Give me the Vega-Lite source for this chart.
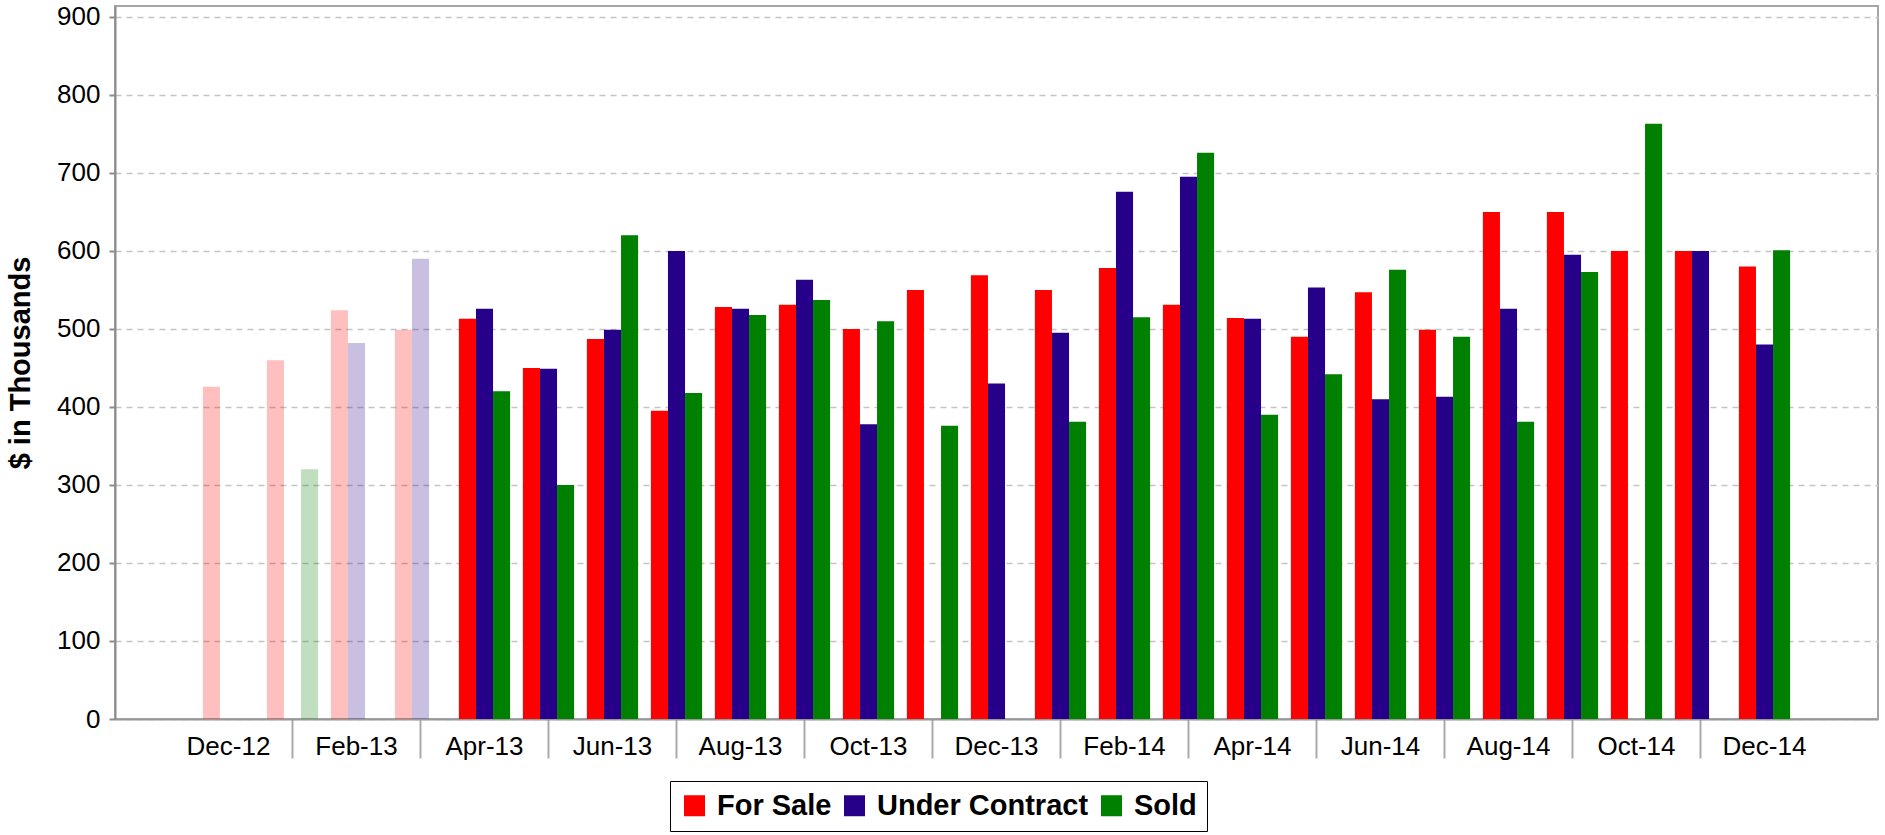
{
  "$schema": "https://vega.github.io/schema/vega-lite/v6.json",
  "autosize": {"type": "none"},
  "padding": {"left": 115, "top": 6, "right": 7, "bottom": 116},
  "width": 1763,
  "height": 713,
  "background": "white",
  "config": {
    "font": "Liberation Sans",
    "view": {"stroke": "#a6a6a6", "strokeWidth": 2}
  },
  "data": {
    "values": [
      {"month": "Dec-12", "series": "For Sale", "value": 426},
      {"month": "Jan-13", "series": "For Sale", "value": 460},
      {"month": "Jan-13", "series": "Sold", "value": 320},
      {"month": "Feb-13", "series": "For Sale", "value": 524},
      {"month": "Feb-13", "series": "Under Contract", "value": 482},
      {"month": "Mar-13", "series": "For Sale", "value": 499},
      {"month": "Mar-13", "series": "Under Contract", "value": 590},
      {"month": "Apr-13", "series": "For Sale", "value": 513},
      {"month": "Apr-13", "series": "Under Contract", "value": 526},
      {"month": "Apr-13", "series": "Sold", "value": 420},
      {"month": "May-13", "series": "For Sale", "value": 450},
      {"month": "May-13", "series": "Under Contract", "value": 449},
      {"month": "May-13", "series": "Sold", "value": 300},
      {"month": "Jun-13", "series": "For Sale", "value": 487},
      {"month": "Jun-13", "series": "Under Contract", "value": 499},
      {"month": "Jun-13", "series": "Sold", "value": 620},
      {"month": "Jul-13", "series": "For Sale", "value": 395},
      {"month": "Jul-13", "series": "Under Contract", "value": 600},
      {"month": "Jul-13", "series": "Sold", "value": 418},
      {"month": "Aug-13", "series": "For Sale", "value": 528},
      {"month": "Aug-13", "series": "Under Contract", "value": 526},
      {"month": "Aug-13", "series": "Sold", "value": 518},
      {"month": "Sep-13", "series": "For Sale", "value": 531},
      {"month": "Sep-13", "series": "Under Contract", "value": 563},
      {"month": "Sep-13", "series": "Sold", "value": 537},
      {"month": "Oct-13", "series": "For Sale", "value": 500},
      {"month": "Oct-13", "series": "Under Contract", "value": 378},
      {"month": "Oct-13", "series": "Sold", "value": 510},
      {"month": "Nov-13", "series": "For Sale", "value": 550},
      {"month": "Nov-13", "series": "Sold", "value": 376},
      {"month": "Dec-13", "series": "For Sale", "value": 569},
      {"month": "Dec-13", "series": "Under Contract", "value": 430},
      {"month": "Jan-14", "series": "For Sale", "value": 550},
      {"month": "Jan-14", "series": "Under Contract", "value": 495},
      {"month": "Jan-14", "series": "Sold", "value": 381},
      {"month": "Feb-14", "series": "For Sale", "value": 578},
      {"month": "Feb-14", "series": "Under Contract", "value": 676},
      {"month": "Feb-14", "series": "Sold", "value": 515},
      {"month": "Mar-14", "series": "For Sale", "value": 531},
      {"month": "Mar-14", "series": "Under Contract", "value": 695},
      {"month": "Mar-14", "series": "Sold", "value": 726},
      {"month": "Apr-14", "series": "For Sale", "value": 514},
      {"month": "Apr-14", "series": "Under Contract", "value": 513},
      {"month": "Apr-14", "series": "Sold", "value": 390},
      {"month": "May-14", "series": "For Sale", "value": 490},
      {"month": "May-14", "series": "Under Contract", "value": 553},
      {"month": "May-14", "series": "Sold", "value": 442},
      {"month": "Jun-14", "series": "For Sale", "value": 547},
      {"month": "Jun-14", "series": "Under Contract", "value": 410},
      {"month": "Jun-14", "series": "Sold", "value": 576},
      {"month": "Jul-14", "series": "For Sale", "value": 499},
      {"month": "Jul-14", "series": "Under Contract", "value": 413},
      {"month": "Jul-14", "series": "Sold", "value": 490},
      {"month": "Aug-14", "series": "For Sale", "value": 650},
      {"month": "Aug-14", "series": "Under Contract", "value": 526},
      {"month": "Aug-14", "series": "Sold", "value": 381},
      {"month": "Sep-14", "series": "For Sale", "value": 650},
      {"month": "Sep-14", "series": "Under Contract", "value": 595},
      {"month": "Sep-14", "series": "Sold", "value": 573},
      {"month": "Oct-14", "series": "For Sale", "value": 600},
      {"month": "Oct-14", "series": "Sold", "value": 763},
      {"month": "Nov-14", "series": "For Sale", "value": 600},
      {"month": "Nov-14", "series": "Under Contract", "value": 600},
      {"month": "Dec-14", "series": "For Sale", "value": 580},
      {"month": "Dec-14", "series": "Under Contract", "value": 480},
      {"month": "Dec-14", "series": "Sold", "value": 601}
    ]
  },
  "mark": {"type": "bar"},
  "encoding": {
    "x": {
      "field": "month",
      "type": "ordinal",
      "scale": {
        "type": "band",
        "domain": ["pre","Dec-12","Jan-13","Feb-13","Mar-13","Apr-13","May-13","Jun-13","Jul-13","Aug-13","Sep-13","Oct-13","Nov-13","Dec-13","Jan-14","Feb-14","Mar-14","Apr-14","May-14","Jun-14","Jul-14","Aug-14","Sep-14","Oct-14","Nov-14","Dec-14","post"],
        "paddingInner": 0.2,
        "paddingOuter": 0.3734
      },
      "axis": {
        "title": null,
        "values": ["Dec-12","Jan-13","Feb-13","Mar-13","Apr-13","May-13","Jun-13","Jul-13","Aug-13","Sep-13","Oct-13","Nov-13","Dec-13","Jan-14","Feb-14","Mar-14","Apr-14","May-14","Jun-14","Jul-14","Aug-14","Sep-14","Oct-14","Nov-14","Dec-14"],
        "labelAngle": 0,
        "labelFontSize": 26,
        "labelColor": "black",
        "labelPadding": -25,
        "labelExpr": "indexof(['Jan','Mar','May','Jul','Sep','Nov'], substring(datum.value, 0, 3)) >= 0 ? '' : datum.label",
        "labelOverlap": false,
        "labelBound": false,
        "tickSize": 39,
        "tickWidth": 2,
        "tickColor": "#aaaaaa",
        "tickOpacity": {"condition": {"test": "indexof(['Jan','Mar','May','Jul','Sep','Nov'], substring(datum.value, 0, 3)) >= 0", "value": 1}, "value": 0},
        "domainColor": "#999999",
        "domainWidth": 2,
        "grid": false
      }
    },
    "xOffset": {
      "field": "series",
      "type": "nominal",
      "scale": {"domain": ["For Sale", "Under Contract", "Sold"], "paddingInner": 0, "paddingOuter": 0}
    },
    "y": {
      "field": "value",
      "type": "quantitative",
      "scale": {"domain": [0, 914], "nice": false},
      "axis": {
        "title": "$ in Thousands",
        "titleFontSize": 29,
        "titleFontWeight": "bold",
        "titleColor": "black",
        "titlePadding": 21,
        "values": [0, 100, 200, 300, 400, 500, 600, 700, 800, 900],
        "labelFontSize": 26,
        "labelColor": "black",
        "labelPadding": 9,
        "tickSize": 6,
        "tickWidth": 2,
        "tickColor": "#8c8c8c",
        "domainColor": "#8c8c8c",
        "domainWidth": 2,
        "grid": true,
        "gridColor": "#c4c4c4",
        "gridDash": [6, 5],
        "gridWidth": 1.5
      }
    },
    "color": {
      "field": "series",
      "type": "nominal",
      "scale": {"domain": ["For Sale", "Under Contract", "Sold"], "range": ["#ff0000", "#270089", "#008000"]},
      "legend": {
        "title": null,
        "orient": "none",
        "legendX": 555,
        "legendY": 775,
        "direction": "horizontal",
        "padding": 10,
        "strokeColor": "black",
        "fillColor": "white",
        "symbolType": "square",
        "symbolSize": 441,
        "symbolStrokeWidth": 0,
        "symbolOpacity": 1,
        "labelFontSize": 29,
        "labelFontWeight": "bold",
        "labelColor": "black",
        "labelOffset": 8,
        "labelLimit": 400,
        "columnPadding": 8
      }
    },
    "opacity": {
      "condition": {"test": "indexof(['Dec-12','Jan-13','Feb-13','Mar-13'], datum.month) >= 0", "value": 0.25},
      "value": 1
    }
  }
}
